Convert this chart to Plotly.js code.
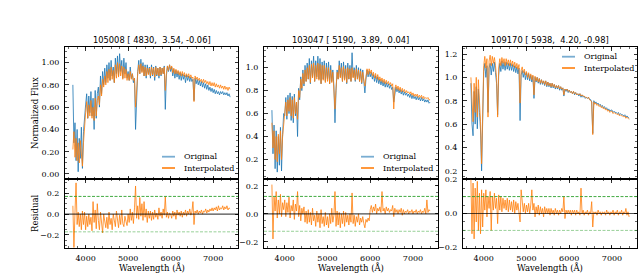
<!DOCTYPE html>
<html><head><meta charset="utf-8">
<script src="https://cdn.plot.ly/plotly-3.0.1.min.js"></script>
<style>html,body{margin:0;padding:0;background:#fff}#chart{width:644px;height:276px}</style>
</head><body><div id="chart"></div>
<script>
// Wavelength grid (Å)
const WL = [
3700,3725,3750,3775,3800,3825,3850,3875,3900,3925,3950,3975,
4000,4025,4050,4075,4100,4125,4150,4175,4200,4225,4250,4275,4300,4325,4350,4375,4400,4425,4450,4475,
4500,4525,4550,4575,4600,4625,4650,4675,4700,4725,4750,4775,4800,4825,4850,4875,4900,4925,4950,4975,
5000,5025,5050,5075,5100,5125,5150,5175,5200,5225,5250,5275,5300,5325,5350,5375,5400,5425,5450,5475,
5500,5525,5550,5575,5600,5625,5650,5675,5700,5725,5750,5775,5800,5825,5850,5875,5900,5925,5950,5975,
6000,6025,6050,6075,6100,6125,6150,6175,6200,6225,6250,6275,6300,6325,6350,6375,6400,6425,6450,6475,
6500,6525,6550,6575,6600,6625,6650,6675,6700,6725,6750,6775,6800,6825,6850,6875,6900,6925,6950,6975,
7000,7025,7050,7075,7100,7125,7150,7175,7200,7225,7250,7275,7300,7325,7350,7375,7400];

const titles = ["105008 [ 4830,  3.54, -0.06]", "103047 [ 5190,  3.89,  0.04]", "109170 [ 5938,  4.20, -0.98]"];
const seriesNames = ["Original", "Interpolated"];
const thresholds = [0.17, 0.125, 0.10];
const xTicks = [4000, 5000, 6000, 7000];

const p1Orig = [
0.80,0.28,0.46,0.12,0.40,0.02,0.32,0.14,0.42,0.05,0.38,0.55,
0.62,0.72,0.50,0.70,0.55,0.74,0.52,0.68,0.40,0.75,0.50,0.72,0.78,0.60,0.88,0.72,0.92,0.80,0.95,0.82,
0.98,0.86,1.00,0.84,1.02,0.88,0.96,0.82,1.04,0.90,1.06,0.88,1.08,0.92,1.02,0.86,1.04,0.90,1.00,0.86,
0.92,0.84,0.96,0.86,0.90,0.82,0.86,0.40,0.75,0.92,1.02,0.90,1.03,0.92,1.00,0.88,0.98,0.86,0.98,0.90,
0.96,0.86,0.98,0.88,0.96,0.84,0.97,0.88,0.95,0.86,0.96,0.88,0.95,0.90,0.97,0.58,0.88,0.97,0.92,0.98,
0.92,0.96,0.88,0.94,0.86,0.93,0.87,0.92,0.85,0.91,0.84,0.90,0.85,0.89,0.82,0.89,0.84,0.88,0.83,0.87,
0.83,0.85,0.66,0.86,0.81,0.85,0.80,0.84,0.79,0.83,0.78,0.82,0.77,0.81,0.76,0.80,0.75,0.78,0.74,0.77,
0.73,0.76,0.72,0.75,0.72,0.74,0.71,0.74,0.72,0.74,0.71,0.73,0.71,0.73,0.70,0.72,0.69];
const p1Interp = [
0.22,0.38,0.15,0.32,0.12,0.28,0.10,0.30,0.18,0.07,0.28,0.45,
0.55,0.65,0.50,0.62,0.52,0.66,0.50,0.60,0.48,0.68,0.52,0.66,0.70,0.62,0.80,0.70,0.85,0.78,0.88,0.80,
0.92,0.82,0.94,0.84,0.96,0.85,0.93,0.82,0.98,0.86,1.00,0.87,0.99,0.88,0.97,0.85,0.96,0.86,0.94,0.84,
0.90,0.84,0.92,0.85,0.90,0.84,0.86,0.60,0.80,0.90,0.98,0.90,0.99,0.91,0.97,0.88,0.96,0.88,0.95,0.89,
0.95,0.88,0.96,0.89,0.95,0.87,0.96,0.89,0.95,0.88,0.96,0.89,0.95,0.90,0.96,0.75,0.90,0.97,0.93,0.98,
0.94,0.97,0.91,0.95,0.90,0.94,0.90,0.93,0.89,0.92,0.88,0.92,0.88,0.91,0.87,0.90,0.87,0.90,0.86,0.89,
0.86,0.87,0.65,0.88,0.85,0.87,0.84,0.86,0.83,0.85,0.82,0.85,0.82,0.84,0.81,0.83,0.80,0.83,0.79,0.82,
0.79,0.82,0.78,0.81,0.78,0.80,0.77,0.80,0.77,0.79,0.76,0.79,0.76,0.78,0.75,0.78,0.76];
const p1Resid = [
0.08,-0.32,0.02,0.30,-0.10,0.02,-0.12,0.00,-0.15,0.03,-0.10,0.02,
-0.15,-0.02,-0.12,0.00,-0.10,-0.03,-0.16,0.12,-0.08,0.04,-0.14,0.10,-0.06,-0.15,0.02,-0.10,-0.18,0.00,-0.09,-0.13,
-0.03,-0.14,0.02,-0.10,-0.04,-0.15,0.00,-0.09,-0.12,0.03,-0.08,-0.13,-0.01,-0.10,0.04,-0.09,-0.12,-0.02,-0.07,-0.11,
0.00,-0.08,0.05,-0.06,0.02,-0.09,0.06,0.27,-0.04,0.08,-0.05,0.16,-0.02,0.10,-0.06,0.12,-0.03,0.05,-0.08,0.03,
-0.04,0.03,-0.06,0.02,-0.05,0.04,-0.03,0.01,-0.05,0.06,-0.02,0.02,-0.04,0.05,-0.01,0.17,-0.03,0.02,-0.04,0.01,
0.00,-0.04,0.03,-0.02,0.02,-0.05,0.04,-0.01,0.02,-0.02,0.03,-0.03,0.02,-0.01,0.04,-0.02,0.03,0.00,0.05,-0.01,
0.02,0.12,-0.10,0.03,0.01,0.04,0.00,0.03,0.01,0.04,0.00,0.03,0.02,0.05,0.01,0.04,0.02,0.05,0.03,0.06,
0.03,0.06,0.04,0.07,0.03,0.08,0.04,0.06,0.05,0.08,0.04,0.07,0.05,0.08,0.04,0.06,0.05];

const p2Orig = [
0.63,0.25,0.50,0.12,0.45,0.09,0.40,0.15,0.48,0.10,0.42,0.60,
0.58,0.74,0.55,0.76,0.60,0.78,0.54,0.75,0.52,0.77,0.58,0.70,0.40,0.82,0.72,0.92,0.80,0.98,0.84,1.02,
0.88,1.04,0.90,1.08,0.86,1.06,0.92,1.10,0.88,1.06,0.92,1.10,0.90,1.08,0.86,1.05,0.90,1.06,0.88,1.04,
0.90,1.05,0.86,1.02,0.88,0.98,0.84,0.52,0.80,0.98,0.90,1.06,0.92,1.04,0.88,1.05,0.90,1.02,0.86,1.04,
0.90,1.02,0.88,1.13,0.92,1.00,0.88,1.02,0.90,1.00,0.88,0.99,0.86,0.98,0.88,0.78,0.90,0.98,0.92,0.97,
0.92,0.96,0.90,0.94,0.88,0.93,0.87,0.92,0.86,0.90,0.85,0.89,0.84,0.88,0.83,0.87,0.83,0.86,0.82,0.85,
0.81,0.83,0.70,0.80,0.83,0.79,0.82,0.78,0.81,0.77,0.80,0.76,0.79,0.76,0.78,0.75,0.77,0.74,0.77,0.73,
0.76,0.73,0.75,0.72,0.75,0.72,0.74,0.71,0.74,0.71,0.73,0.70,0.72,0.70,0.72,0.69,0.70];
const p2Interp = [
0.52,0.30,0.45,0.20,0.40,0.18,0.42,0.25,0.45,0.20,0.40,0.55,
0.60,0.70,0.58,0.72,0.62,0.74,0.58,0.72,0.56,0.74,0.60,0.70,0.55,0.80,0.74,0.90,0.82,0.95,0.86,0.98,
0.88,1.00,0.90,1.02,0.87,1.03,0.91,1.04,0.88,1.02,0.90,1.04,0.89,1.03,0.86,1.02,0.89,1.02,0.87,1.00,
0.88,1.00,0.86,0.98,0.87,0.96,0.84,0.64,0.82,0.96,0.90,1.02,0.91,1.00,0.88,1.01,0.89,0.99,0.87,1.00,
0.90,0.99,0.88,1.00,0.91,0.98,0.89,0.99,0.90,0.98,0.88,0.97,0.87,0.96,0.89,0.84,0.92,0.99,0.94,0.99,
0.95,0.98,0.93,0.96,0.91,0.95,0.90,0.94,0.89,0.92,0.88,0.91,0.87,0.90,0.86,0.89,0.86,0.88,0.85,0.87,
0.84,0.86,0.64,0.82,0.85,0.81,0.84,0.80,0.83,0.79,0.82,0.79,0.81,0.78,0.80,0.78,0.79,0.77,0.79,0.76,
0.78,0.75,0.77,0.75,0.77,0.74,0.76,0.74,0.76,0.73,0.75,0.73,0.74,0.73,0.74,0.72,0.72];
const p2Resid = [
0.21,-0.18,0.12,0.02,0.16,-0.03,0.10,0.00,0.14,-0.02,0.08,0.03,
0.10,-0.02,0.08,0.01,0.12,-0.03,0.06,0.02,0.10,-0.04,0.07,0.02,0.16,-0.02,0.06,-0.05,0.04,0.00,0.05,-0.06,
0.02,-0.07,0.03,-0.06,0.01,-0.08,0.04,-0.05,-0.01,-0.09,0.02,-0.06,0.00,-0.10,0.03,-0.07,-0.02,-0.09,0.01,-0.08,
-0.02,-0.10,0.00,-0.07,0.04,-0.06,-0.01,0.16,-0.09,0.02,-0.08,0.01,-0.10,0.00,-0.07,0.02,-0.09,0.01,-0.06,-0.01,
-0.08,0.00,-0.06,0.15,-0.07,-0.01,-0.09,-0.02,-0.06,0.00,-0.08,-0.03,-0.06,-0.02,-0.07,-0.10,-0.04,-0.06,-0.03,-0.05,
0.03,0.06,0.01,0.05,0.02,0.07,0.00,0.04,0.02,0.05,0.01,0.16,0.02,0.04,0.00,0.05,0.02,0.04,0.01,0.03,
0.02,0.06,-0.02,0.04,0.01,0.03,0.00,0.03,0.01,0.04,-0.01,0.03,0.00,0.02,0.01,0.03,0.00,0.02,0.01,0.03,
0.00,0.02,0.01,0.03,0.00,0.02,0.01,0.03,0.00,0.02,0.01,0.04,0.00,0.10,0.01,0.03,0.02];

const p3Orig = [
0.95,0.60,0.50,0.88,0.60,0.92,0.56,0.90,0.70,0.55,0.20,0.62,
1.05,1.12,1.00,1.10,0.70,1.08,1.12,1.02,1.12,1.05,1.13,1.04,0.95,0.68,1.02,1.12,1.05,1.14,1.07,1.13,
1.06,1.13,1.07,1.12,1.06,1.12,1.06,1.11,1.05,1.10,1.04,1.09,1.03,1.08,0.63,1.02,1.06,1.00,1.05,0.98,
1.04,0.98,1.03,0.97,1.02,0.96,1.01,0.82,1.00,0.96,1.00,0.95,0.99,0.94,0.98,0.94,0.97,0.93,0.97,0.92,
0.96,0.92,0.95,0.91,0.95,0.91,0.94,0.90,0.93,0.90,0.93,0.89,0.92,0.89,0.91,0.84,0.90,0.88,0.90,0.87,
0.89,0.87,0.88,0.86,0.88,0.85,0.87,0.85,0.86,0.84,0.86,0.83,0.85,0.83,0.84,0.82,0.83,0.82,0.83,0.81,
0.81,0.79,0.52,0.80,0.78,0.79,0.77,0.78,0.76,0.77,0.75,0.76,0.74,0.75,0.73,0.74,0.72,0.73,0.71,0.72,
0.72,0.70,0.71,0.70,0.70,0.69,0.70,0.68,0.69,0.68,0.68,0.67,0.68,0.66,0.67,0.66,0.65];
const p3Interp = [
1.00,0.75,0.62,0.95,0.70,1.00,0.66,0.98,0.80,0.62,0.26,0.72,
1.10,1.18,1.08,1.16,0.66,1.14,1.19,1.10,1.18,1.12,1.17,1.10,1.00,0.66,1.08,1.16,1.10,1.17,1.12,1.16,
1.10,1.16,1.11,1.15,1.10,1.15,1.10,1.14,1.09,1.13,1.08,1.12,1.07,1.11,0.78,1.06,1.09,1.04,1.07,1.02,
1.05,1.00,1.04,0.99,1.03,0.98,1.02,0.85,1.01,0.97,1.00,0.96,0.99,0.95,0.98,0.95,0.97,0.94,0.97,0.93,
0.96,0.93,0.95,0.92,0.95,0.92,0.94,0.91,0.93,0.91,0.93,0.90,0.92,0.90,0.91,0.85,0.90,0.89,0.90,0.88,
0.89,0.87,0.88,0.86,0.88,0.86,0.87,0.85,0.86,0.85,0.86,0.84,0.85,0.84,0.84,0.83,0.83,0.82,0.83,0.81,
0.80,0.79,0.51,0.79,0.77,0.78,0.76,0.77,0.75,0.76,0.74,0.75,0.73,0.74,0.72,0.73,0.71,0.72,0.70,0.71,
0.71,0.69,0.70,0.69,0.69,0.68,0.69,0.67,0.68,0.67,0.67,0.66,0.67,0.65,0.66,0.65,0.64];
const p3Resid = [
0.20,-0.12,0.18,-0.15,0.15,-0.05,0.19,-0.10,0.12,-0.12,0.14,-0.08,
0.12,0.02,0.14,-0.02,0.10,0.03,0.13,-0.10,0.10,0.02,0.12,0.03,0.09,-0.06,0.11,0.02,0.10,0.01,0.09,0.03,
0.08,0.02,0.09,0.01,0.08,0.02,0.07,0.01,0.08,0.00,0.07,0.02,0.06,0.01,-0.05,0.14,0.05,0.01,0.06,0.00,
0.05,0.01,0.06,0.00,0.05,0.14,0.02,0.06,-0.02,0.04,0.00,0.05,-0.01,0.04,0.00,0.03,-0.02,0.04,0.00,0.03,
0.00,0.03,-0.01,0.03,0.00,0.02,-0.01,0.03,0.00,0.02,-0.01,0.02,0.00,0.03,0.01,0.10,-0.03,0.02,0.00,0.02,
0.00,0.02,-0.01,0.02,0.00,0.02,-0.01,0.02,0.00,0.01,-0.01,0.15,0.00,0.02,-0.01,0.01,0.00,0.02,-0.01,0.01,
0.00,0.07,-0.08,0.01,0.00,0.01,-0.01,0.02,0.00,0.01,-0.01,0.01,0.00,0.01,-0.01,0.02,0.00,0.01,-0.01,0.01,
0.00,0.02,-0.01,0.01,0.00,0.02,-0.01,0.01,0.00,0.02,-0.01,0.01,0.00,0.03,-0.01,0.01,-0.02];

const origs = [p1Orig, p2Orig, p3Orig];
const interps = [p1Interp, p2Interp, p3Interp];
const resids = [p1Resid, p2Resid, p3Resid];

// ---- layout geometry (pixels) ----
const W = 644, H = 276;
const colPx = [[65, 238], [264, 438], [463, 637]];
const upPx = [47, 179], loPx = [179, 248];
const xRange = [3515, 7585];
const upRanges = [[-0.045, 1.14], [0.03, 1.18], [0.13, 1.26]];
const upFmt = ['.2f', '.1f', '.1f'];
const loRanges = [[-0.325, 0.337], [-0.245, 0.25], [-0.204, 0.204]];

const BLUE = 'rgba(31,119,180,0.9)', ORANGE = 'rgba(255,127,14,0.9)';
const SERIF = 'DejaVu Serif', SANS = 'DejaVu Sans';
const fx = p => p / W, fy = p => 1 - p / H;

const traces = [];
const layout = {
  width: W, height: H, margin: {l: 0, r: 0, t: 0, b: 0},
  paper_bgcolor: '#fff', plot_bgcolor: '#fff', showlegend: false,
  font: {family: SERIF, size: 8, color: '#000'},
  shapes: [], annotations: []
};

function axBase() {
  return {showline: true, linecolor: '#000', linewidth: 1, mirror: 'allticks',
    ticks: 'inside', ticklen: 3.5, tickwidth: 0.8, tickcolor: '#000',
    showgrid: false, zeroline: false, tickfont: {family: SERIF, size: 8, color: '#000'}};
}

for (let i = 0; i < 3; i++) {
  const ui = i + 1, li = i + 4;
  const xu = 'x' + (ui === 1 ? '' : ui), yu = 'y' + (ui === 1 ? '' : ui);
  const xl = 'x' + li, yl = 'y' + li;
  const xuKey = 'xaxis' + (ui === 1 ? '' : ui), yuKey = 'yaxis' + (ui === 1 ? '' : ui);
  const xlKey = 'xaxis' + li, ylKey = 'yaxis' + li;

  traces.push({x: WL, y: origs[i], xaxis: xu, yaxis: yu, type: 'scatter', mode: 'lines',
    name: seriesNames[0], line: {color: BLUE, width: 0.9}});
  traces.push({x: WL, y: interps[i], xaxis: xu, yaxis: yu, type: 'scatter', mode: 'lines',
    name: seriesNames[1], line: {color: ORANGE, width: 0.9}});
  traces.push({x: WL, y: resids[i], xaxis: xl, yaxis: yl, type: 'scatter', mode: 'lines',
    name: 'Residual', line: {color: ORANGE, width: 0.9}});

  const dom = [fx(colPx[i][0]), fx(colPx[i][1])];
  layout[xuKey] = Object.assign(axBase(), {domain: dom, anchor: yu, range: xRange,
    tickvals: xTicks, showticklabels: false,
    minor: {ticks: 'inside', ticklen: 2, tickwidth: 0.6, tickcolor: '#000', dtick: 200, tick0: 4000}});
  layout[yuKey] = Object.assign(axBase(), {domain: [fy(upPx[1]), fy(upPx[0])], anchor: xu,
    range: upRanges[i], dtick: 0.2, tick0: 0, tickformat: upFmt[i], ticklabelstandoff: 3,
    minor: {ticks: 'inside', ticklen: 2, tickwidth: 0.6, tickcolor: '#000', dtick: 0.05, tick0: 0}});
  layout[xlKey] = Object.assign(axBase(), {domain: dom, anchor: yl, range: xRange,
    tickvals: xTicks, ticklabelstandoff: 2, matches: xu,
    minor: {ticks: 'inside', ticklen: 2, tickwidth: 0.6, tickcolor: '#000', dtick: 200, tick0: 4000}});
  layout[ylKey] = Object.assign(axBase(), {domain: [fy(loPx[1]), fy(loPx[0])], anchor: xl,
    range: loRanges[i], tickvals: [-0.2, 0, 0.2], tickformat: '.1f', ticklabelstandoff: 3,
    minor: {ticks: 'inside', ticklen: 2, tickwidth: 0.6, tickcolor: '#000', dtick: 0.05, tick0: 0}});

  // zero line + threshold lines
  layout.shapes.push({type: 'line', xref: xl + ' domain', x0: 0, x1: 1, yref: yl, y0: 0, y1: 0,
    line: {color: 'rgba(0,0,0,0.7)', width: 1.1}, layer: 'above'});
  layout.shapes.push({type: 'line', xref: xl + ' domain', x0: 0, x1: 1, yref: yl, y0: thresholds[i], y1: thresholds[i],
    line: {color: '#2ca02c', width: 0.9, dash: '3px,1.5px'}, layer: 'above'});
  layout.shapes.push({type: 'line', xref: xl + ' domain', x0: 0, x1: 1, yref: yl, y0: -thresholds[i], y1: -thresholds[i],
    line: {color: 'rgba(44,160,44,0.55)', width: 0.9, dash: '3px,1.5px'}, layer: 'above'});

  // title
  const cx = (colPx[i][0] + colPx[i][1]) / 2;
  layout.annotations.push({xref: 'paper', yref: 'paper', x: fx(cx), y: fy(40), showarrow: false,
    text: titles[i].replace(/ /g, '\u00a0'), xanchor: 'center', yanchor: 'middle',
    font: {family: SANS, size: 8.3, color: '#000'}});
  // x axis label
  layout.annotations.push({xref: 'paper', yref: 'paper', x: fx(cx), y: fy(267), showarrow: false,
    text: 'Wavelength (Å)', xanchor: 'center', yanchor: 'middle',
    font: {family: SERIF, size: 8.5, color: '#000'}});

  // legend (manual)
  const lx0 = i < 2 ? 162 + 199 * i : 562;
  const ly = i < 2 ? [156.7, 168] : [56.7, 68];
  const lc = ['rgba(31,119,180,0.6)', ORANGE];
  for (let k = 0; k < 2; k++) {
    layout.shapes.push({type: 'line', xref: 'paper', yref: 'paper', x0: fx(lx0), x1: fx(lx0 + 13),
      y0: fy(ly[k]), y1: fy(ly[k]), line: {color: lc[k], width: 1.8}});
    layout.annotations.push({xref: 'paper', yref: 'paper', x: fx(lx0 + 20), y: fy(ly[k]), showarrow: false,
      text: seriesNames[k], xanchor: 'left', yanchor: 'middle',
      font: {family: SERIF, size: 8, color: '#000'}});
  }
}

// y axis labels (first column only)
layout.annotations.push({xref: 'paper', yref: 'paper', x: fx(35), y: fy(113), showarrow: false,
  text: 'Normalized Flux', textangle: -90, xanchor: 'center', yanchor: 'middle',
  font: {family: SERIF, size: 8.5, color: '#000'}});
layout.annotations.push({xref: 'paper', yref: 'paper', x: fx(35), y: fy(214), showarrow: false,
  text: 'Residual', textangle: -90, xanchor: 'center', yanchor: 'middle',
  font: {family: SERIF, size: 8.5, color: '#000'}});

Plotly.newPlot('chart', traces, layout, {staticPlot: true, displayModeBar: false});
</script>
</body></html>
